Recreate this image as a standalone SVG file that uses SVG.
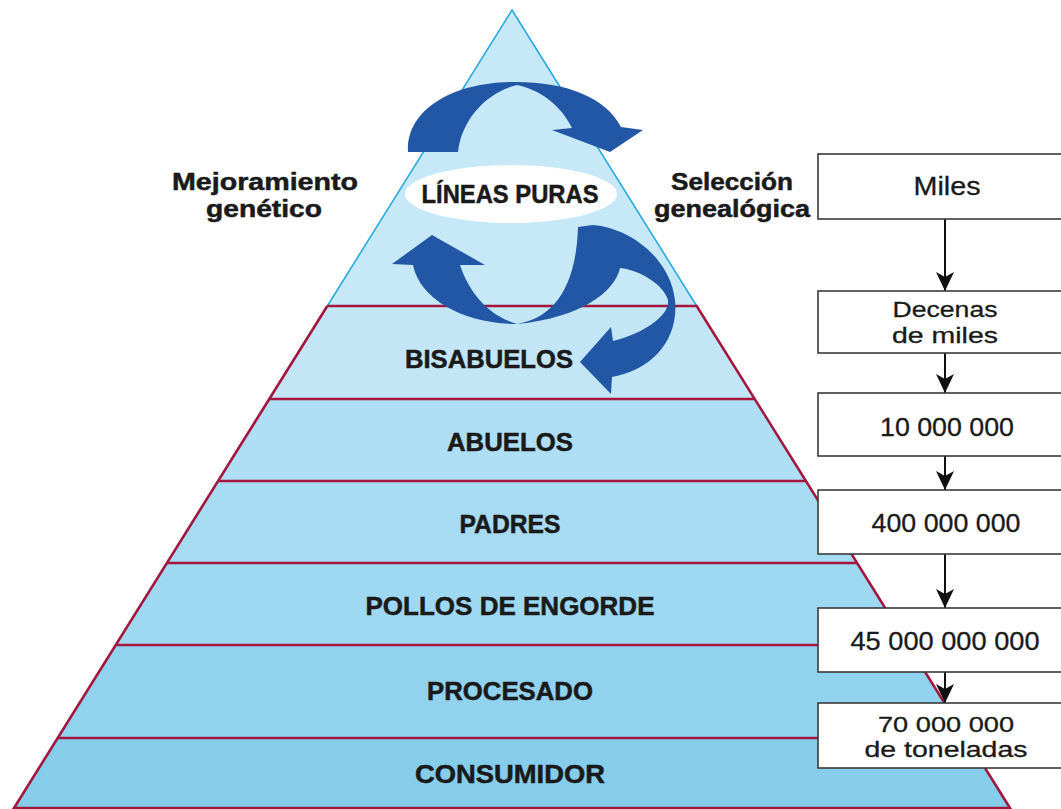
<svg xmlns="http://www.w3.org/2000/svg" width="1061" height="809" viewBox="0 0 1061 809">
<style>
.lbl{font-family:"Liberation Sans",Arial,sans-serif;font-weight:bold;fill:#1a1a1a;stroke:#1a1a1a;stroke-width:0.5;text-anchor:middle;font-size:26px}
.side{font-family:"Liberation Sans",Arial,sans-serif;font-weight:bold;fill:#1a1a1a;stroke:#1a1a1a;stroke-width:0.5;text-anchor:middle;font-size:24px}
.box{fill:#fff;stroke:#3a3a3a;stroke-width:1.6}
.bt{font-family:"Liberation Sans",Arial,sans-serif;fill:#1a1a1a;stroke:#1a1a1a;stroke-width:0.3;text-anchor:middle;font-size:25px}
.bt2{font-size:22px}
.band{stroke:none}
.cl{stroke:#a3173f;stroke-width:2.6;fill:none}
.arr{fill:#2257a6}
.conn{stroke:#111;stroke-width:2;fill:none;marker-end:url(#ah)}
</style>
<defs>
<marker id="ah" markerUnits="userSpaceOnUse" viewBox="0 -10 20 20" refX="19" refY="0" markerWidth="20" markerHeight="20" orient="auto">
<path d="M0,-9 L19,0 L0,9 L5,0 Z" fill="#111"/>
</marker>
</defs>
<rect width="1061" height="809" fill="#fff"/>

<g id="pyramid">
<polygon id="apex" points="512,10 696.7,306 327.3,306" fill="#c6e8f7" stroke="#29abe2" stroke-width="1.6"/>
<polygon class="band" points="327.3,306 696.7,306 754.7,399 269.3,399" fill="#c2e6f6"/>
<polygon class="band" points="269.3,399 754.7,399 805.9,481 218.1,481" fill="#afdff4"/>
<polygon class="band" points="218.1,481 805.9,481 857,563 167,563" fill="#a6dbf2"/>
<polygon class="band" points="167,563 857,563 908.2,645 115.8,645" fill="#9ed8f1"/>
<polygon class="band" points="115.8,645 908.2,645 966.3,738 57.7,738" fill="#91d2ee"/>
<polygon class="band" points="57.7,738 966.3,738 1010,808 14,808" fill="#85cdeb"/>
<polyline class="cl" points="327.3,306 14,808 1010,808 696.7,306 327.3,306"/>
<line class="cl" x1="269.3" y1="399" x2="754.7" y2="399"/>
<line class="cl" x1="218.1" y1="481" x2="805.9" y2="481"/>
<line class="cl" x1="167" y1="563" x2="857" y2="563"/>
<line class="cl" x1="115.8" y1="645" x2="908.2" y2="645"/>
<line class="cl" x1="57.7" y1="738" x2="966.3" y2="738"/>
</g>

<g id="lineas-puras">
<ellipse cx="511" cy="194" rx="106" ry="29" fill="#fff"/>
<text class="lbl" x="510" y="203" textLength="177" lengthAdjust="spacingAndGlyphs">LÍNEAS PURAS</text>
</g>

<g id="cycle-arrows">
<path class="arr" d="M408,152 C406,110 452,82 515,82 C568,82 606,98 621,127 L643,130 L610,152 L552,130 L572,128 C560,104 540,90 517,85 C488,92 462,118 458,152 Z"/>
<path class="arr" d="M392,264 L432,235 L485,265 L460,265 C470,295 490,316 517,324 C465,324 420,300 413,265 Z"/>
<path class="arr" d="M517,324 C552,318 576,290 578,227 L593,225 C630,228 670,258 675,300 C679,340 652,370 612,377 L611,394 L580,362 L611,327 L613,341 C645,333 670,315 668,300 C664,285 640,270 620,268 C615,292 580,318 517,324 Z"/>
</g>

<g id="tier-bisabuelos"><text class="lbl" x="489" y="368" textLength="168" lengthAdjust="spacingAndGlyphs">BISABUELOS</text></g>
<g id="tier-abuelos"><text class="lbl" x="510" y="451" textLength="126" lengthAdjust="spacingAndGlyphs">ABUELOS</text></g>
<g id="tier-padres"><text class="lbl" x="510" y="533" textLength="101" lengthAdjust="spacingAndGlyphs">PADRES</text></g>
<g id="tier-pollos"><text class="lbl" x="510" y="615" textLength="289" lengthAdjust="spacingAndGlyphs">POLLOS DE ENGORDE</text></g>
<g id="tier-procesado"><text class="lbl" x="510" y="700" textLength="166" lengthAdjust="spacingAndGlyphs">PROCESADO</text></g>
<g id="tier-consumidor"><text class="lbl" x="510" y="783" textLength="190" lengthAdjust="spacingAndGlyphs">CONSUMIDOR</text></g>

<g id="label-mejoramiento">
<text class="side" x="265" y="190" textLength="186" lengthAdjust="spacingAndGlyphs">Mejoramiento</text>
<text class="side" x="264" y="217" textLength="116" lengthAdjust="spacingAndGlyphs">genético</text>
</g>
<g id="label-seleccion">
<text class="side" x="732" y="190" textLength="122" lengthAdjust="spacingAndGlyphs">Selección</text>
<text class="side" x="732" y="217" textLength="156" lengthAdjust="spacingAndGlyphs">genealógica</text>
</g>

<g id="connectors">
<line class="conn" x1="945" y1="219" x2="945" y2="291"/>
<line class="conn" x1="945" y1="353" x2="945" y2="393"/>
<line class="conn" x1="945" y1="456" x2="945" y2="490"/>
<line class="conn" x1="945" y1="554" x2="945" y2="608"/>
<line class="conn" x1="945" y1="672" x2="945" y2="703"/>
</g>

<g id="box-miles">
<rect class="box" x="818" y="154" width="260" height="65"/>
<text class="bt" x="947" y="195" textLength="67" lengthAdjust="spacingAndGlyphs">Miles</text>
</g>
<g id="box-decenas">
<rect class="box" x="818" y="291" width="260" height="62"/>
<text class="bt bt2" x="945" y="317" textLength="105" lengthAdjust="spacingAndGlyphs">Decenas</text>
<text class="bt bt2" x="945" y="343" textLength="106" lengthAdjust="spacingAndGlyphs">de miles</text>
</g>
<g id="box-10m">
<rect class="box" x="818" y="393" width="260" height="63"/>
<text class="bt" x="947" y="436" textLength="134" lengthAdjust="spacingAndGlyphs">10 000 000</text>
</g>
<g id="box-400m">
<rect class="box" x="818" y="490" width="260" height="64"/>
<text class="bt" x="946" y="532" textLength="149" lengthAdjust="spacingAndGlyphs">400 000 000</text>
</g>
<g id="box-45b">
<rect class="box" x="818" y="608" width="260" height="64"/>
<text class="bt" x="945" y="650" textLength="189" lengthAdjust="spacingAndGlyphs">45 000 000 000</text>
</g>
<g id="box-70m">
<rect class="box" x="818" y="703" width="260" height="65"/>
<text class="bt bt2" x="946" y="732" textLength="136" lengthAdjust="spacingAndGlyphs">70 000 000</text>
<text class="bt bt2" x="946" y="757" textLength="163" lengthAdjust="spacingAndGlyphs">de toneladas</text>
</g>
</svg>
